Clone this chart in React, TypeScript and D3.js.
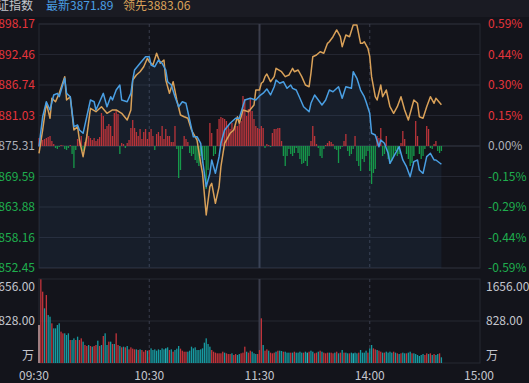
import React, { useEffect } from "react";
import * as d3 from "d3";

const W = 529;
const H = 383;

const headerName = "上证指数";
const headerLatest = "最新3871.89";
const headerLead = "领先3883.06";

const timeLabels = ["09:30", "10:30", "11:30", "14:00", "15:00"];
const timeTickMinutes = [0, 60, 120, 180, 240];
const dashedMinutes = [60, 180];
const lunchMinute = 120;

const leftTicks = [3898.17, 3892.46, 3886.74, 3881.03, 3875.31, 3869.59, 3863.88, 3858.16, 3852.45];
const rightTicks = ["0.59%", "0.44%", "0.30%", "0.15%", "0.00%", "-0.15%", "-0.29%", "-0.44%", "-0.59%"];
const volumeTicks = [1656, 828];
const volumeUnit = "万";

const priceMinutes = [0,2,4,6,8,10,11,14,15,17,19,21,22,24,26,28,30,31,33,35,37,39,40,42,44,45,48,50,51,52,55,58,60,61,63,65,67,69,70,72,74,76,78,80,82,84,86,88,89,91,93,94,96,98,99,101,104,107,109,112,115,118,120,122,124,126,128,129,131,133,135,137,138,140,142,144,147,148,150,152,154,156,158,160,163,165,167,170,171,173,175,177,178,180,181,183,185,186,188,190,191,193,195,196,198,200,202,204,206,207,209,211,213,215,216,219];
const priceValues = [3875.18,3880.80,3883.61,3882.06,3884.87,3885.18,3884.55,3888.00,3885.18,3884.55,3878.93,3879.24,3878.31,3877.69,3880.80,3883.93,3883.61,3882.06,3883.61,3885.18,3882.67,3884.55,3883.93,3885.80,3886.74,3883.93,3883.61,3885.18,3887.68,3889.55,3890.81,3892.04,3892.04,3890.49,3890.17,3891.42,3890.81,3889.55,3887.36,3886.74,3884.55,3882.67,3883.61,3883.31,3880.18,3877.05,3877.05,3875.82,3872.69,3867.68,3870.19,3872.69,3870.19,3873.31,3875.82,3878.31,3879.56,3880.50,3880.50,3883.93,3884.25,3883.93,3884.70,3885.20,3886.00,3884.87,3886.42,3887.68,3887.06,3887.36,3886.12,3886.74,3886.12,3885.80,3884.25,3882.67,3881.74,3883.31,3884.87,3883.93,3882.99,3883.93,3885.80,3885.48,3886.42,3884.25,3886.42,3886.12,3889.23,3888.00,3885.80,3884.55,3883.61,3881.44,3877.69,3877.37,3875.18,3876.43,3875.82,3873.94,3872.07,3873.31,3874.56,3875.18,3872.69,3871.43,3869.56,3872.37,3872.69,3870.81,3870.19,3873.31,3873.94,3872.69,3872.69,3871.89];

const leadMinutes = [0,2,4,6,7,9,11,14,15,17,19,21,22,24,26,28,31,34,37,40,42,45,48,50,51,53,55,57,59,60,62,64,66,68,69,71,73,75,77,79,81,83,86,88,89,91,93,94,96,98,99,101,104,106,108,109,111,114,117,118,120,121,122,123,124,126,128,129,132,134,136,138,139,141,143,145,147,148,149,151,153,155,157,158,160,162,164,165,167,169,171,173,175,176,177,179,180,181,183,184,186,187,189,191,193,195,197,199,201,204,206,207,209,211,213,215,216,219];
const leadValues = [3873.94,3878.31,3883.31,3880.50,3884.25,3883.61,3885.18,3888.30,3883.93,3884.55,3878.31,3878.93,3876.43,3873.31,3877.05,3882.37,3881.74,3882.67,3881.44,3882.06,3882.06,3881.44,3880.18,3882.06,3887.68,3888.61,3889.23,3890.17,3891.74,3891.11,3890.49,3892.68,3890.81,3891.42,3887.68,3885.18,3887.36,3883.93,3881.12,3880.80,3880.50,3878.31,3876.43,3872.07,3870.19,3862.38,3867.68,3868.32,3864.57,3867.68,3871.43,3875.82,3877.69,3878.31,3880.80,3879.56,3882.06,3881.74,3882.99,3885.80,3885.80,3887.06,3887.36,3888.30,3888.80,3887.36,3888.30,3889.87,3889.23,3888.30,3888.61,3889.87,3889.23,3889.55,3888.30,3886.74,3886.42,3888.93,3892.04,3892.36,3892.98,3892.68,3894.55,3894.85,3895.79,3897.05,3895.79,3893.92,3896.11,3895.79,3897.98,3897.98,3894.55,3894.55,3894.85,3893.62,3892.04,3888.30,3884.55,3883.93,3886.74,3884.55,3885.80,3882.67,3881.44,3882.67,3884.55,3882.06,3880.18,3883.93,3883.31,3880.80,3880.50,3882.67,3884.55,3883.31,3884.25,3883.06];

// per-minute buy/sell strength bars (one per minute from 09:30)
const flowValues = [
  8,10,6,7,8,9,10,5,2,-2,
  -3,-1,1,0.5,-3,-4,-2,1,-8,-22,
  -4,7,6,10,-5,4,12,10,8,6,
  8,5,7,9,33,30,17,20,22,20,
  10,33,36,32,-8,3,2,-2,3,6,
  18,26,18,14,10,17,7,14,17,7,
  14,17,10,-4,12,14,10,20,7,17,
  10,10,4,4,20,-3,-32,-24,-3,10,
  7,4,-7,-10,-8,-14,-17,-20,-10,-17,
  -14,-43,-24,23,13,-10,-8,17,27,29,
  28,27,25,20,17,23,17,20,20,22,
  25,50,47,30,37,48,35,27,20,18,17,
  20,18,-2,2,1,-1,13,17,17,18,
  18,5,-10,-20,-10,-3,-8,-10,-7,-2,
  -7,-13,-18,-17,-15,-20,-10,5,20,10,
  2,-2,-10,-12,-3,1,3,5,4,2,
  -3,-4,-17,-3,-1,5,12,-5,-10,-8,
  -3,10,-15,-20,-25,-13,-16,-10,-5,-25,
  -38,-27,-23,10,8,18,-10,-8,10,-13,
  -18,-15,-10,-5,-10,-8,3,15,7,-8,
  -13,-20,-17,-10,25,10,-8,-13,-10,-3,
  20,17,-2,-3,2,5,-5,-7,-5
];

const volumes = [
  749,1649,1406,1078,1340,946,913,782,683,683,
  749,782,618,585,585,552,585,453,453,486,
  453,519,453,486,421,355,335,355,335,322,
  335,355,440,335,355,532,585,355,421,421,
  375,375,585,355,335,309,322,309,335,269,
  309,283,269,269,256,269,256,223,256,243,
  256,289,256,269,243,269,256,289,269,289,
  309,256,269,223,256,283,335,283,243,223,
  223,223,243,322,289,309,256,256,269,289,
  401,486,375,322,256,223,204,191,191,191,
  223,204,191,177,177,191,158,177,158,177,
  191,204,322,223,204,243,223,191,177,177,
  256,881,355,243,269,243,204,191,204,223,
  243,243,237,223,223,204,204,204,204,223,
  204,204,223,204,204,223,204,223,243,223,
  191,204,223,243,223,204,191,204,204,204,
  191,204,223,191,204,256,204,204,191,191,
  204,191,204,191,204,256,204,204,243,204,
  289,355,289,269,256,243,223,204,204,223,
  204,223,204,223,204,191,177,191,204,191,
  191,204,223,191,191,177,158,138,158,177,
  158,191,177,191,158,177,158,177,191,112
];
const volumeDirs = (
  "wrrgrggrgg" + "ggrrgggrgg" + "rgrrgrrgrg" + "rrgrgrggrg" + "rgrrgrgrgr" +
  "rrrgrgrrrg" + "rggggggggc" + "grgrgggrrr" + "rggggggggg" + "ggggrrrrrr" +
  "rgrrrgrrgg" + "rrrgrrgggr" + "rrgrrgrrrg" + "rggrgggrgr" + "ggggrgcrgg" +
  "rrgrgrrrgr" + "rgrgrgrggr" + "gcggrggggr" + "ggrrgrrgrg" + "gggrgrgrgg" +
  "rggrgggggg" + "rrgrgrggrg"
).split("");

const C = {
  bg: "#13141b",
  header: "#1a1b23",
  grid: "#262833",
  gridMid: "#373a48",
  vline: "#3a3d4c",
  blue: "#4a9fe3",
  orange: "#d9a159",
  up: "#e5343b",
  down: "#1fae4e",
  flat: "#aeb0b9",
  text: "#c4c6ce",
  flowUp: "#b9343a",
  flowDown: "#16994a",
  volUp: "#c3343b",
  volDown: "#179aa0",
  volCyan: "#27c6cf",
  volFirst: "#e6b3b3",
};

const FONT = "'Noto Sans CJK SC', 'Noto Sans', sans-serif";

export default function App() {
  useEffect(() => {
    document.body.style.margin = "0";
    document.body.style.background = C.bg;
  }, []);

  const left = 39, right = 480, top = 24, bottom = 268;
  const vTop = 279, vBottom = 363;

  const x = d3.scaleLinear().domain([0, 240]).range([left, right]);
  const y = d3.scaleLinear().domain([leftTicks[leftTicks.length - 1], leftTicks[0]]).range([bottom, top]);
  const flowY = d3.scaleLinear().domain([-122, 122]).range([bottom, top]);
  const volY = d3.scaleLinear().domain([0, volumeTicks[0]]).range([vBottom, vTop]);

  const pricePts = priceMinutes.map((m, i) => [m, priceValues[i]] as [number, number]);
  const leadPts = leadMinutes.map((m, i) => [m, leadValues[i]] as [number, number]);

  const line = d3.line<[number, number]>().x(d => x(d[0])).y(d => y(d[1])).curve(d3.curveLinear);
  const area = d3.area<[number, number]>().x(d => x(d[0])).y0(bottom).y1(d => y(d[1])).curve(d3.curveLinear);

  const barW = 1.3;
  const tickColor = (i: number) => (i < 4 ? C.up : i === 4 ? C.flat : C.down);
  const volColor = (d: string) =>
    d === "r" ? C.volUp : d === "c" ? C.volCyan : d === "w" ? C.volFirst : C.volDown;

  return (
    <svg width={W} height={H} style={{ position: "absolute", left: 0, top: 0, display: "block" }} fontFamily={FONT}>
      <rect x={0} y={0} width={W} height={H} fill={C.bg} />
      <rect x={0} y={0} width={W} height={17} fill={C.header} />

      {/* main grid */}
      {leftTicks.map((t, i) => (
        <line key={"g" + i} x1={left} x2={right} y1={y(t)} y2={y(t)} stroke={i === 4 ? C.gridMid : C.grid} strokeWidth={1} />
      ))}
      <rect x={left} y={top} width={right - left} height={bottom - top} fill="none" stroke={C.grid} />
      {/* volume grid */}
      <rect x={left} y={vTop} width={right - left} height={vBottom - vTop} fill="none" stroke={C.grid} />
      <line x1={left} x2={right} y1={volY(volumeTicks[1])} y2={volY(volumeTicks[1])} stroke={C.grid} />

      {/* vertical time lines */}
      {dashedMinutes.map((m, i) => (
        <g key={"d" + i}>
          <line x1={x(m)} x2={x(m)} y1={top} y2={bottom} stroke={C.vline} strokeDasharray="3,3" />
          <line x1={x(m)} x2={x(m)} y1={vTop} y2={vBottom} stroke={C.vline} strokeDasharray="3,3" />
        </g>
      ))}
      <line x1={x(lunchMinute)} x2={x(lunchMinute)} y1={top} y2={bottom} stroke={C.vline} strokeWidth={2} />
      <line x1={x(lunchMinute)} x2={x(lunchMinute)} y1={vTop} y2={vBottom} stroke={C.vline} strokeWidth={2} />

      {/* area under index line */}
      <path d={area(pricePts) || ""} fill="rgba(70,130,200,0.09)" />

      {/* flow bars */}
      {flowValues.map((v, m) => (
        <rect
          key={"f" + m}
          x={x(m) - barW / 2}
          y={Math.min(flowY(0), flowY(v))}
          width={barW}
          height={Math.abs(flowY(v) - flowY(0))}
          fill={v >= 0 ? C.flowUp : C.flowDown}
        />
      ))}

      {/* lines */}
      <path d={line(leadPts) || ""} fill="none" stroke={C.orange} strokeWidth={1.5} strokeLinejoin="round" />
      <path d={line(pricePts) || ""} fill="none" stroke={C.blue} strokeWidth={1.5} strokeLinejoin="round" />

      {/* volume bars */}
      {volumes.map((v, m) => (
        <rect
          key={"v" + m}
          x={x(m) - barW / 2}
          y={volY(v)}
          width={barW}
          height={volY(0) - volY(v)}
          fill={volColor(volumeDirs[m] || "g")}
        />
      ))}

      {/* left / right axis labels */}
      {leftTicks.map((t, i) => (
        <text key={"l" + i} x={35} y={y(t)} dy="0.35em" textAnchor="end" fontSize={12} fill={tickColor(i)}>
          {d3.format(".2f")(t)}
        </text>
      ))}
      {rightTicks.map((t, i) => (
        <text key={"r" + i} x={488} y={y(leftTicks[i])} dy="0.35em" textAnchor="start" fontSize={12} fill={tickColor(i)}>
          {t}
        </text>
      ))}

      {/* volume labels */}
      <text x={35} y={volY(volumeTicks[0]) + 8} dy="0.35em" textAnchor="end" fontSize={12} fill={C.text}>
        {d3.format(".2f")(volumeTicks[0])}
      </text>
      <text x={486} y={volY(volumeTicks[0]) + 8} dy="0.35em" textAnchor="start" fontSize={12} fill={C.text}>
        {d3.format(".2f")(volumeTicks[0])}
      </text>
      <text x={35} y={volY(volumeTicks[1])} dy="0.35em" textAnchor="end" fontSize={12} fill={C.text}>
        {d3.format(".2f")(volumeTicks[1])}
      </text>
      <text x={486} y={volY(volumeTicks[1])} dy="0.35em" textAnchor="start" fontSize={12} fill={C.text}>
        {d3.format(".2f")(volumeTicks[1])}
      </text>
      <text x={34} y={vBottom - 7} dy="0.35em" textAnchor="end" fontSize={12} fill={C.text}>{volumeUnit}</text>
      <text x={486} y={vBottom - 7} dy="0.35em" textAnchor="start" fontSize={12} fill={C.text}>{volumeUnit}</text>

      {/* time labels */}
      {timeLabels.map((t, i) => (
        <text
          key={"t" + i}
          x={x(timeTickMinutes[i]) + (i === 0 ? -5 : i === timeLabels.length - 1 ? -1 : 0)}
          y={376}
          dy="0.35em"
          textAnchor="middle"
          fontSize={12}
          fill={C.text}
        >
          {t}
        </text>
      ))}

      {/* header */}
      <text x={-15} y={10} fontSize={12} fill={C.text}>{headerName}</text>
      <text x={46} y={10} fontSize={12} fill={C.blue}>{headerLatest}</text>
      <text x={123} y={10} fontSize={12} fill={C.orange}>{headerLead}</text>
    </svg>
  );
}
